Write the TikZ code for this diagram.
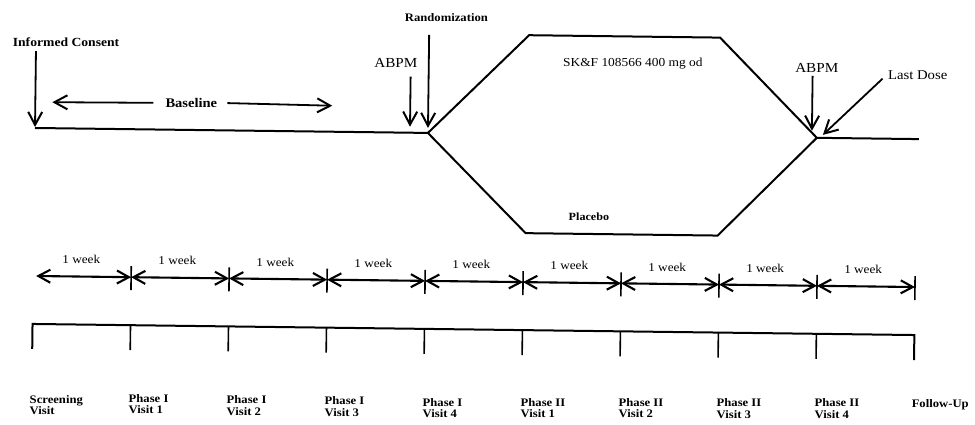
\documentclass[tikz,border=0pt]{standalone}
\usepackage{fontspec}
\setmainfont{Liberation Serif}[FakeStretch=1.1]
\usetikzlibrary{arrows.meta,calc}
\newcommand\fz[1]{\fontsize{#1}{#1}\selectfont}
\begin{document}
\begin{tikzpicture}[x=1pt,y=-1pt,
  ln/.style={line width=2pt, line join=miter},
  tk/.style={line width=1.6pt},
  arr/.style={line width=1.8pt,-{Straight Barb[length=13pt,width=14pt,line width=2pt]}},
  warr/.style={line width=2.1pt,{Straight Barb[length=12pt,width=13pt,line width=2.1pt]}-{Straight Barb[length=12pt,width=13pt,line width=2.1pt]}},
  lbl/.style={inner sep=0pt},
  visit/.style={inner sep=0pt, anchor=west, align=left, font=\bfseries\fz{11.5}\selectfont}
  ]
\fill[white] (0,0) rectangle (975,424);
\useasboundingbox (0,0) rectangle (975,424);
\begin{scope}[rotate around={-0.72:(35,128)}]
  % ---------- upper time line ----------
  \coordinate (start) at (35,128);
  \coordinate (lv) at (428,128);
  \coordinate (hTL) at (528,29);
  \coordinate (hTR) at (719,29);
  \coordinate (rv) at (817,128);
  \coordinate (hBR) at (719,227);
  \coordinate (hBL) at (527,227);
  \coordinate (postE) at (919,128);
  \draw[ln] (start) -- (lv);
  \draw[ln] (lv) -- (hTL) -- (hTR) -- (rv) -- (hBR) -- (hBL) -- cycle;
  \draw[ln] (rv) -- (postE);

  \node[lbl,font=\bfseries\fz{12.4}] (ic) at (65,42) {Informed Consent};
  \coordinate (icTop) at (35,51);
  \coordinate (icTip) at (35,127);
  \draw[arr] (icTop) -- (icTip);

  \node[lbl,font=\bfseries\fz{13.2}] (bl) at (191,101) {Baseline};
  \coordinate (blL) at (52,102);
  \coordinate (blR) at (332,102);
  \draw[arr] (bl.west -| 153,0) -- (blL);
  \draw[arr] (bl.east -| 227,0) -- (blR);

  \node[lbl,font=\fz{13.8}] (abpm1) at (395,58) {ABPM};
  \coordinate (ab1Top) at (410,72);
  \coordinate (ab1Tip) at (410,122);
  \draw[arr] (ab1Top) -- (ab1Tip);

  \node[lbl,font=\bfseries\fz{11.5}] (rand) at (445,12) {Randomization};
  \coordinate (rTop) at (428,30);
  \coordinate (rTip) at (428,123);
  \draw[arr] (rTop) -- (rTip);

  \node[lbl,font=\fz{12.2}] (drug) at (632,56) {SK\&F 108566 400 mg od};
  \node[lbl,font=\bfseries\fz{11}] (plac) at (590,210) {Placebo};

  \node[lbl,font=\fz{13.8}] (abpm2) at (816,58) {ABPM};
  \coordinate (ab2Top) at (812,66);
  \coordinate (ab2Tip) at (812,121);
  \draw[arr] (ab2Top) -- (ab2Tip);

  \node[lbl,font=\fz{13.4}] (ld) at (917,64) {Last Dose};
  \coordinate (ldS) at (882,68);
  \coordinate (ldTip) at (823,125);
  \draw[arr] (ldS) -- (ldTip);

  % ---------- week arrows ----------
  \foreach \i in {0,...,9} {
    \coordinate (w\i) at ({35+98*\i},276);
    \coordinate (b\i) at ({35+98*\i},324);
    \coordinate (bb\i) at ({35+98*\i},349);
  }
  \coordinate (wstart) at (38,276);
  \draw[warr] (wstart) -- (w1);
  \node[lbl,font=\fz{12}] (wk0) at ($(w0)!0.5!(w1)+(-1,-17)$) {1 week};
  \foreach \i [evaluate=\i as \j using int(\i+1)] in {1,...,8} {
    \draw[warr] (w\i) -- (w\j);
    \node[lbl,font=\fz{12}] (wk\i) at ($(w\i)!0.5!(w\j)+(-3,-17)$) {1 week};
  }
  \foreach \i in {1,...,9} {
    \draw[tk] ([yshift=11pt]w\i) -- ([yshift=-13pt]w\i);
  }

  % ---------- visit bracket ----------
  \draw[ln] (bb0) -- (b0) -- (b9) -- (bb9);
  \foreach \i in {1,...,8} { \draw[tk] (b\i) -- (bb\i); }

  \node[visit] (v0) at (33,405) {Screening\\Visit};
  \node[visit] (v1) at (132,403) {Phase I\\Visit 1};
  \node[visit] (v2) at (230,403) {Phase I\\Visit 2};
  \node[visit] (v3) at (328,403) {Phase I\\Visit 3};
  \node[visit] (v4) at (426,403) {Phase I\\Visit 4};
  \node[visit] (v5) at (524,402) {Phase II\\Visit 1};
  \node[visit] (v6) at (622,401) {Phase II\\Visit 2};
  \node[visit] (v7) at (720,400) {Phase II\\Visit 3};
  \node[visit] (v8) at (818,399) {Phase II\\Visit 4};
  \node[visit] (v9) at (915,394) {Follow-Up};
\end{scope}
\end{tikzpicture}
\end{document}
